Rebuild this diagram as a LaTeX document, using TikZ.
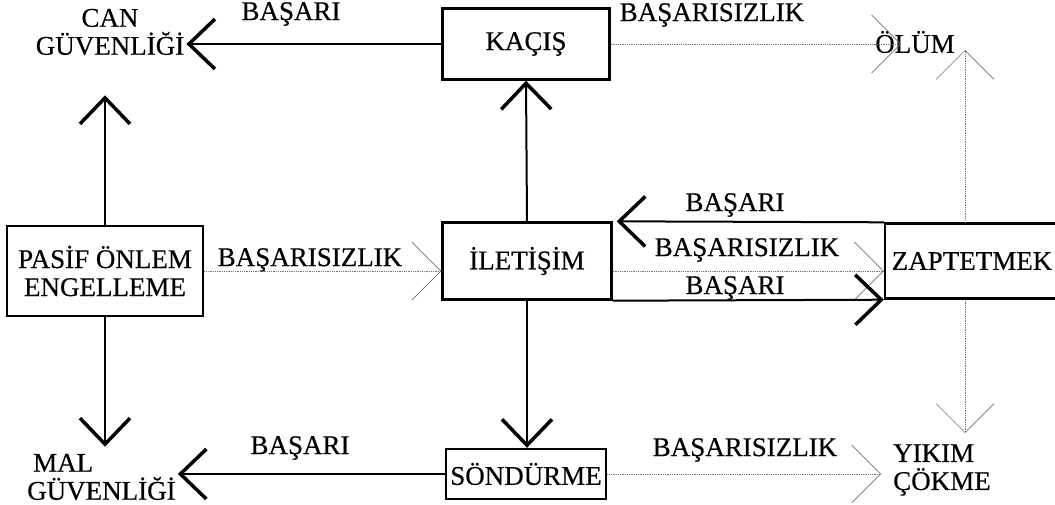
\documentclass[tikz,border=0pt]{standalone}
\usepackage{fontspec}
\setmainfont{Liberation Serif}[FakeBold=0.4]
\usetikzlibrary{arrows.meta}

\begin{document}
\begin{tikzpicture}[x=1pt,y=-1pt,font=\fontsize{27}{28}\selectfont,
box/.style={draw,line width=2.4pt,inner sep=0pt},
lbl/.style={inner sep=2pt},
win/.style={line width=2pt,-{Straight Barb[length=26pt,width=50pt,line width=3.5pt]}},
fail/.style={densely dotted,black!55,line width=0.8pt,-{Straight Barb[length=29pt,width=58pt,line width=0.6pt]}}]
\useasboundingbox (0,0) rectangle (1055,504);
\node[box,minimum width=167pt,minimum height=71pt] (kacis) at (526,44) {KAÇIŞ};
\node[box,align=center,minimum width=196pt,minimum height=90pt] (pasif) at (105,271) {PASİF ÖNLEM\\ENGELLEME};
\node[box,minimum width=169pt,minimum height=77pt] (iletisim) at (527,261) {İLETİŞİM};
\node[box,minimum width=174pt,minimum height=75pt] (zap) at (972,261) {ZAPTETMEK};
\node[box,minimum width=160pt,minimum height=50pt] (sondurme) at (526,474) {SÖNDÜRME};
\node[lbl,align=center] (can) at (110,32) {CAN\\GÜVENLİĞİ};
\node[lbl,align=left,anchor=west] (mal) at (25,477) {\hspace*{6pt}MAL\\GÜVENLİĞİ};
\node[lbl] (olum) at (915,42) {ÖLÜM};
\node[lbl,align=left,anchor=west] (yikim) at (891,470) {YIKIM\\ÇÖKME};
\coordinate (olumtip) at (965,50);
\coordinate (yikimtip) at (965,433);

\node[lbl] (bcan) at (291,14) {BAŞARI};
\node[lbl] (folum) at (712,15) {BAŞARISIZLIK};
\node[lbl] (fpasif) at (310,260) {BAŞARISIZLIK};
\node[lbl] (bzapup) at (735,205) {BAŞARI};
\node[lbl] (fzap) at (747,250) {BAŞARISIZLIK};
\node[lbl] (bzapdn) at (735,288) {BAŞARI};
\node[lbl] (bmal) at (300,448) {BAŞARI};
\node[lbl] (fyikim) at (745,450) {BAŞARISIZLIK};

\draw[win] (kacis.west) -- (kacis.west -| can.east);
\draw[fail,shorten >=-28pt] (kacis.east) -- (kacis.east -| olum.west);
\draw[win] (iletisim.north) -- (kacis.south);
\draw[win] (iletisim.south) -- (iletisim.south |- sondurme.north);
\draw[win,shorten >=38pt] (pasif.north) -- (pasif.north |- can.south);
\draw[win,shorten >=5pt] (pasif.south) -- (pasif.south |- mal.north);
\draw[fail] (pasif.east) -- (pasif.east -| iletisim.west);
\draw[win,shorten >=4pt] (zap.north west) -- (iletisim.north east);
\draw[fail] ([yshift=-10pt]iletisim.east) -- ([yshift=-10pt]iletisim.east -| zap.west);
\draw[win] (iletisim.south east) -- (zap.south west);
\draw[fail] (zap.north -| olumtip) -- (olumtip);
\draw[fail] (zap.south -| yikimtip) -- (yikimtip);
\draw[win] (sondurme.west) -- (sondurme.west -| mal.east);
\draw[fail,shorten >=10pt] (sondurme.east) -- (sondurme.east -| yikim.west);
\end{tikzpicture}
\end{document}
